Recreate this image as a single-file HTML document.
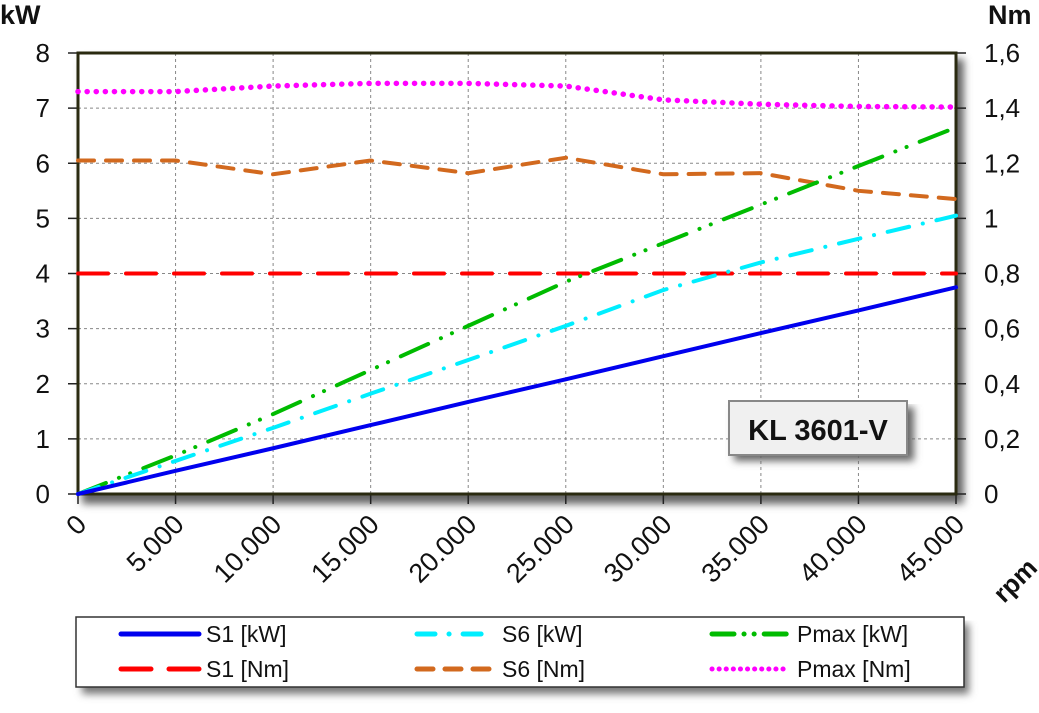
<!DOCTYPE html>
<html><head><meta charset="utf-8"><style>
body{margin:0;background:#fff;width:1039px;height:708px;overflow:hidden}
svg text{font-family:"Liberation Sans","DejaVu Sans",sans-serif}
</style></head><body>
<svg id="c" width="1039" height="708">
<defs><filter id="sh" x="-5%" y="-5%" width="115%" height="130%"><feGaussianBlur stdDeviation="4"/></filter></defs>
<g id="g"></g>
</svg>
<script>
const rpm=[0,5000,10000,15000,20000,25000,30000,35000,40000,45000];
const s1kw=[0,0.42,0.83,1.25,1.67,2.08,2.5,2.92,3.33,3.75];
const s6kw=[0,0.6,1.2,1.82,2.43,3.05,3.7,4.2,4.63,5.05];
const pmaxkw=[0,0.7,1.45,2.25,3.05,3.85,4.55,5.25,5.95,6.65];
const s1nm=[0.8,0.8,0.8,0.8,0.8,0.8,0.8,0.8,0.8,0.8];
const s6nm=[1.21,1.21,1.16,1.21,1.164,1.22,1.16,1.164,1.1,1.07];
const pmaxnm=[1.46,1.46,1.48,1.49,1.49,1.48,1.43,1.414,1.406,1.404];
const kwTicks=[0,1,2,3,4,5,6,7,8];
const nmTicks=["0","0,2","0,4","0,6","0,8","1","1,2","1,4","1,6"];
const xTicks=["0","5.000","10.000","15.000","20.000","25.000","30.000","35.000","40.000","45.000"];
const L=78,R=956,T=53,B=494;
const X=v=>L+(R-L)*v/45000, Y=v=>B-(B-T)*v/8, Yn=v=>B-(B-T)*v/1.6;
const NS="http://www.w3.org/2000/svg", g=document.getElementById('g');
function el(t,a,txt){const e=document.createElementNS(NS,t);for(const k in a)e.setAttribute(k,a[k]);if(txt!=null)e.textContent=txt;g.appendChild(e);return e;}
let e=el('rect',{x:L+4,y:T+6,width:R-L+4,height:B-T+4,fill:'#666',filter:'url(#sh)'});

e=el('rect',{x:L,y:T,width:R-L,height:B-T,fill:'#fff'});

kwTicks.forEach((v,i)=>{
 if(i>0&&i<8){e=el('line',{x1:L,x2:R,y1:Y(v),y2:Y(v),stroke:'#888','stroke-dasharray':'3,3','stroke-width':1});}
 e=el('line',{x1:L-10,x2:L,y1:Y(v),y2:Y(v),stroke:'#222','stroke-width':1.5});
 e=el('line',{x1:R,x2:R+10,y1:Y(v),y2:Y(v),stroke:'#222','stroke-width':1.5});
 e=el('text',{x:50,y:Y(v)+9,'font-size':26,'text-anchor':'end',fill:'#111'},String(v));
 e=el('text',{x:984,y:Y(v)+9,'font-size':26,fill:'#111'},nmTicks[i]);
});
rpm.forEach((v,i)=>{
 if(i>0&&i<9){e=el('line',{x1:X(v),x2:X(v),y1:T,y2:B,stroke:'#888','stroke-dasharray':'3,3','stroke-width':1});}
 e=el('line',{x1:X(v),x2:X(v),y1:B,y2:B+10,stroke:'#222','stroke-width':1.5});
 const tx=X(v)+10,ty=B+32;
 e=el('text',{x:tx,y:ty,'font-size':27,'text-anchor':'end',fill:'#111',transform:`rotate(-45 ${tx} ${ty})`},xTicks[i]);
});
e=el('rect',{x:L,y:T,width:R-L,height:B-T,fill:'none',stroke:'#2a2a10','stroke-width':3});

function series(vals,yf,color,dash,name,w){
 const d=vals.map((v,i)=>(i?'L':'M')+X(rpm[i])+' '+yf(v)).join(' ');
 const a={d:d,fill:'none',stroke:color,'stroke-width':w||4,'stroke-linecap':'round'};if(dash)a['stroke-dasharray']=dash;
 const p=el('path',a);
}
series(pmaxnm,Yn,'#ff00ff','0.1,9','series-pmax-nm',5.5);
series(s6nm,Yn,'#d2691e','16,12','series-s6-nm');
series(s1nm,Yn,'#ff0000','30,18','series-s1-nm');
series(pmaxkw,Y,'#00bb00','30,14,0.1,12,0.1,14','series-pmax-kw');
series(s6kw,Y,'#00eeff','22,14,0.1,14','series-s6-kw');
series(s1kw,Y,'#0000ee',null,'series-s1-kw');
e=el('text',{x:0,y:24,'font-size':27,'font-weight':'bold',fill:'#111'},'kW');
e=el('text',{x:988,y:24,'font-size':27,'font-weight':'bold',fill:'#111'},'Nm');
e=el('text',{x:1004,y:604,'font-size':26,'font-weight':'bold',fill:'#111',transform:'rotate(-45 1004 604)'},'rpm');
e=el('rect',{x:734,y:407,width:180,height:54,fill:'#666',filter:'url(#sh)'});
e=el('rect',{x:729,y:401,width:178,height:54,fill:'#f0f0f0',stroke:'#888','stroke-width':2});
e=el('text',{x:818,y:440,'font-size':29,'font-weight':'bold','text-anchor':'middle',fill:'#111'},'KL 3601-V');
e=el('rect',{x:82,y:624,width:887,height:70,fill:'#777',filter:'url(#sh)'});
e=el('rect',{x:76,y:617,width:888,height:70,fill:'#fff',stroke:'#333','stroke-width':1.5});
const leg=[["S1 [kW]",'#0000ee',null,121,634],["S6 [kW]",'#00eeff','18,14,0.1,14',417,634],["Pmax [kW]",'#00bb00','22,10,0.1,10,0.1,10',712,634],
["S1 [Nm]",'#ff0000','30,18',121,669],["S6 [Nm]",'#d2691e','16,12',417,669],["Pmax [Nm]",'#ff00ff','0.1,7',712,669]];
leg.forEach(l=>{
 const a={x1:l[3],x2:l[3]+78,y1:l[4],y2:l[4],stroke:l[1],'stroke-width':5,'stroke-linecap':'round'};if(l[2])a['stroke-dasharray']=l[2];
 e=el('line',a);
 e=el('text',{x:l[3]+85,y:l[4]+8,'font-size':23,fill:'#111'},l[0]);
});
</script>
</body></html>
